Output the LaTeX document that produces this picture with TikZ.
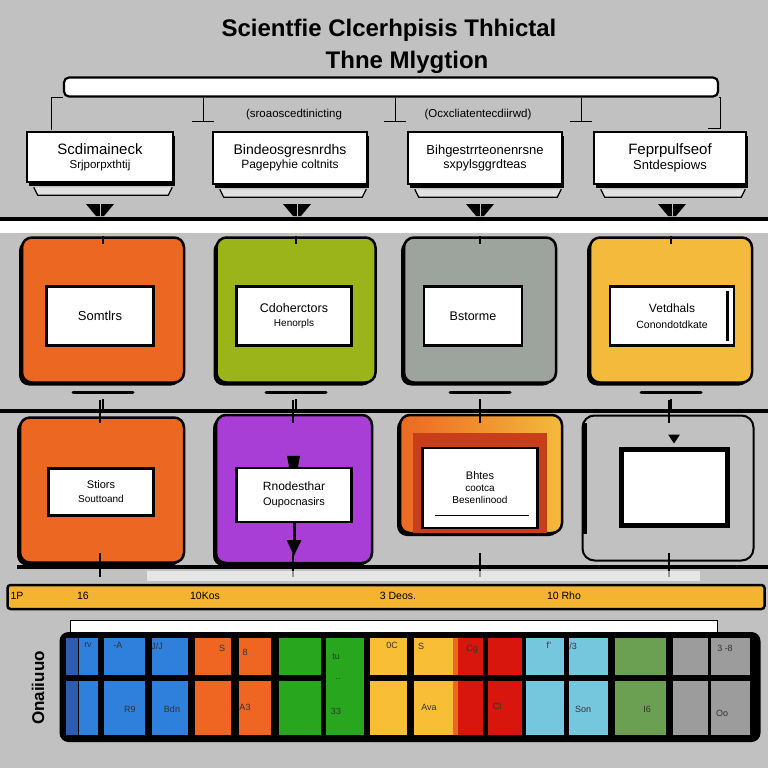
\documentclass[tikz,border=0pt]{standalone}
\usepackage{fontspec}
\setmainfont{Liberation Sans}
\usepackage{xcolor}
\usetikzlibrary{positioning, arrows.meta, shadows}

\definecolor{bggray}{RGB}{193,193,193}
\definecolor{lipgray}{RGB}{225,225,225}
\definecolor{corange}{RGB}{236,104,34}
\definecolor{cgreen}{RGB}{155,180,25}
\definecolor{cgrey}{RGB}{157,163,157}
\definecolor{cyellow}{RGB}{244,186,60}
\definecolor{cpurple}{RGB}{168,62,214}
\definecolor{cred}{RGB}{200,62,26}
\definecolor{baryellow}{RGB}{244,180,49}
\definecolor{gdblue}{RGB}{42,95,174}
\definecolor{gblue}{RGB}{47,127,220}
\definecolor{gorange}{RGB}{238,102,34}
\definecolor{ggreen}{RGB}{40,167,30}
\definecolor{gyellow}{RGB}{248,190,54}
\definecolor{gred}{RGB}{216,22,14}
\definecolor{glblue}{RGB}{117,199,221}
\definecolor{golive}{RGB}{107,160,82}
\definecolor{ggray}{RGB}{156,156,156}

\begin{document}
\begin{tikzpicture}[x=1pt, y=-1pt, every node/.style={inner sep=0pt},
  topbox/.style={draw=black, fill=white, line width=2.5pt, align=center,
    drop shadow={shadow xshift=2pt, shadow yshift=-4pt, fill=black, opacity=1}},
  lip/.style={draw=black, fill=lipgray, line width=1.2pt},
  link/.style={draw=black, line width=1pt},
  colbox/.style={draw=black, line width=2.5pt, rounded corners=10pt,
    drop shadow={shadow xshift=-3pt, shadow yshift=-3pt, fill=black, opacity=1}},
  tag/.style={draw=black, fill=white, line width=2.5pt, align=center},
  notch/.style={draw=black, line width=2.5pt},
  cell/.style={font=\fontsize{9}{10}\selectfont, text=black!80}]
\fill[bggray] (0,0) rectangle (768,768);
\useasboundingbox (0,0) rectangle (768,768);

% Title
\node[font=\fontsize{24}{28}\selectfont\bfseries] (title) at (389,30) {Scientfie Clcerhpisis Thhictal};
\node[font=\fontsize{24}{28}\selectfont\bfseries] (subtitle) at (407,62) {Thne Mlygtion};

% Top bar and drops
\node[draw=black, fill=white, line width=2.2pt, rounded corners=5pt, minimum width=654pt, minimum height=19pt] (topbar) at (391,87) {};
\coordinate (dropL) at (51,130);
\coordinate (dropR) at (720,128);
\draw[link] (topbar.south west) -| (dropL);
\draw[link] (topbar.south east) -| (dropR) -- ++(-12,0);
\foreach \dx in {203,395,581}
  \draw[link, -{Bar[width=22pt, line width=1.2pt]}] (topbar.south -| \dx,0) -- (\dx,122);
\node[font=\fontsize{11.5}{13}\selectfont] (noteL) at (294,115) {(sroaoscedtinicting};
\node[font=\fontsize{11.5}{13}\selectfont] (noteR) at (478,115) {(Ocxcliatentecdiirwd)};

% Top boxes
\node[topbox, minimum width=146pt, minimum height=50pt] (sbox1) at (100,157)
  {\fontsize{15}{17}\selectfont Scdimaineck\\[2pt]\fontsize{11.5}{13}\selectfont Srjporpxthtij};
\node[topbox, minimum width=154pt, minimum height=52pt] (sbox2) at (290,158)
  {\fontsize{14}{16}\selectfont Bindeosgresnrdhs\\[2pt]\fontsize{12}{14}\selectfont Pagepyhie coltnits};
\node[topbox, minimum width=154pt, minimum height=52pt] (sbox3) at (485,158)
  {\fontsize{13}{15}\selectfont Bihgestrrteonenrsne\\[2pt]\fontsize{12.5}{14}\selectfont sxpylsggrdteas};
\node[topbox, minimum width=152pt, minimum height=52pt] (sbox4) at (670,158)
  {\fontsize{15}{17}\selectfont Feprpulfseof\\[2pt]\fontsize{13}{15}\selectfont Sntdespiows};
\foreach \n in {sbox1,sbox2,sbox3,sbox4}
  \draw[lip] ([xshift=8pt,yshift=-4pt]\n.south west) -- ([xshift=12pt,yshift=-12pt]\n.south west)
    -- ([xshift=-6pt,yshift=-12pt]\n.south east) -- ([xshift=-2pt,yshift=-4pt]\n.south east);
\foreach \mx in {100,297,480,672} {
  \fill (\mx-14,204) -- (\mx+14,204) -- (\mx+4,216) -- (\mx-4,216) -- cycle;
  \draw[bggray, line width=1pt] (\mx,204) -- (\mx,216);
}
\draw[line width=4pt] (0,219) -- (768,219);
\fill[white] (0,221) rectangle (768,233);

% Row 2
\node[colbox, fill=corange, minimum width=162pt, minimum height=145pt] (boxA) at (103,310) {};
\node[colbox, fill=cgreen, minimum width=159pt, minimum height=145pt] (boxB) at (296,310) {};
\node[colbox, fill=cgrey, minimum width=152pt, minimum height=145pt] (boxC) at (480,310) {};
\node[colbox, fill=cyellow, minimum width=162pt, minimum height=145pt] (boxD) at (671,310) {};
\node[tag, minimum width=107pt, minimum height=59pt, font=\fontsize{13}{15}\selectfont] (tagA) at (100,316) {Somtlrs};
\node[tag, minimum width=115pt, minimum height=59pt] (tagB) at (294,316)
  {\fontsize{12.5}{14}\selectfont Cdoherctors\\[2pt]\fontsize{10}{12}\selectfont Henorpls};
\node[tag, minimum width=98pt, minimum height=59pt, font=\fontsize{12.5}{14}\selectfont] (tagC) at (473,316) {Bstorme};
\node[tag, minimum width=124pt, minimum height=59pt] (tagD) at (672,316)
  {\fontsize{12}{14}\selectfont Vetdhals\\[4pt]\fontsize{10.5}{12}\selectfont Conondotdkate};
\draw[line width=2.5pt] ([xshift=-8pt,yshift=-6pt]tagD.north east) -- ([xshift=-8pt,yshift=6pt]tagD.south east);
\foreach \n in {boxA,boxB,boxC,boxD} {
  \draw[notch] (\n.north) -- ++(0,8);
  \draw[line width=3pt, line cap=round] ([xshift=-30pt,yshift=-9pt]\n.south) -- ([xshift=30pt,yshift=-9pt]\n.south);
  \draw[notch] ([yshift=-15pt]\n.south) -- ([yshift=-28pt]\n.south);
}
\draw[line width=4pt] (0,411) -- (768,411);

% Row 3
\node[colbox, fill=corange, minimum width=164pt, minimum height=145pt] (boxE) at (102,490) {};
\node[colbox, fill=cpurple, minimum width=156pt, minimum height=148pt] (boxF) at (294,489) {};
\node[colbox, left color=corange, right color=cyellow, minimum width=162pt, minimum height=118pt] (boxG) at (481,474) {};
\node[draw=black, line width=2pt, fill=bggray, rounded corners=12pt, minimum width=171pt, minimum height=145pt] (boxH) at (668,488) {};
\draw[line width=4pt] ([xshift=3pt,yshift=-8pt]boxH.north west) -- ([xshift=3pt,yshift=28pt]boxH.south west);
\node[tag, minimum width=105pt, minimum height=47pt] (tagE) at (101,492)
  {\fontsize{11}{13}\selectfont Stiors\\[2pt]Souttoand};
\node[tag, minimum width=115pt, minimum height=54pt] (tagF) at (294,495)
  {\fontsize{12}{14}\selectfont Rnodesthar\\[3pt]\fontsize{11}{13}\selectfont Oupocnasirs};
\node[fill=cred, minimum width=134pt, minimum height=100pt] (frameG) at (480,483) {};
\node[tag, minimum width=115pt, minimum height=80pt] (tagG) at (480,488)
  {\fontsize{11}{14}\selectfont Bhtes\\cootca\\Besenlinood};
\draw[line width=1.5pt] ([xshift=14pt,yshift=14pt]tagG.south west) -- ([xshift=-10pt,yshift=14pt]tagG.south east);
\node[draw=black, fill=white, line width=5pt, minimum width=106pt, minimum height=76pt] (tagH) at (674,487) {};
\fill ([xshift=-7pt,yshift=11pt]tagF.north) -- ([xshift=6pt,yshift=11pt]tagF.north)
  -- ([xshift=4pt]tagF.north) -- ([xshift=-5pt]tagF.north) -- cycle;
\coordinate (tipF) at (294,556);
\draw[line width=3pt, -{Triangle[width=14pt,length=16pt]}] (tagF.south) -- (tipF);
\fill ([xshift=-6pt,yshift=12pt]tagH.north) -- ([xshift=6pt,yshift=12pt]tagH.north) -- ([yshift=3pt]tagH.north) -- cycle;
\foreach \x in {100,293,480,669} {
  \draw[notch] (\x,400) -- (\x,423);
  \draw[notch] (\x,553) -- (\x,577);
}
\draw[line width=3.5pt] (17,567) -- (768,567);
\fill[white, opacity=0.6] (147,571) rectangle (700,581);

% Scale bar
\node[draw=black, fill=baryellow, line width=2.5pt, rounded corners=3pt, minimum width=757pt, minimum height=24pt] (scalebar) at (386,597) {};
\foreach \sx/\st in {17/1P, 83/16, 205/10Kos, 398/3 Deos., 564/10 Rho}
  \node[font=\fontsize{10.5}{12}\selectfont] (mark\sx) at (\sx,596) {\st};
\node[draw=black, fill=white, line width=1pt, minimum width=647pt, minimum height=12pt] (strip) at (394,626) {};

% Colour grid
\node[fill=black, rounded corners=9pt, minimum width=701pt, minimum height=110pt] (grid) at (410,687) {};
\foreach \ca/\cb/\cc in {66/78/gdblue, 79/98/gblue, 104/145/gblue, 152/188/gblue, 195/231/gorange,
    239/271/gorange, 279/321/ggreen, 370/407/gyellow, 414/453/gyellow, 453/458/gorange, 458/483/gred,
    488/522/gred, 526/564/glblue, 569/608/glblue, 615/666/golive, 673/708/ggray, 711/750/ggray} {
  \fill[\cc] (\ca,638) rectangle (\cb,675);
  \fill[\cc] (\ca,681) rectangle (\cb,735);
}
\fill[ggreen] (326,638) rectangle (364,735);
\foreach \tx/\ty/\tt [count=\i] in {88/645/rv, 118/645/-A, 157/646/{J/J}, 222/648/S, 245/652/8, 336/657/tu,
    392/645/0C, 421/646/S, 472/649/Cg, 549/645/f', 573/646/{/3}, 725/648/3 -8, 338/679/.., 130/709/R9,
    172/709/Bdn, 245/707/A3, 336/711/33, 429/707/Ava, 497/706/Cl, 583/709/Son, 647/709/I6, 722/713/Oo}
  \node[cell] (cell\i) at (\tx,\ty) {\tt};
\node[rotate=90, font=\fontsize{17}{19}\selectfont\bfseries] (sidelabel) at (38,688) {Onaiiuuo};
\end{tikzpicture}
\end{document}
